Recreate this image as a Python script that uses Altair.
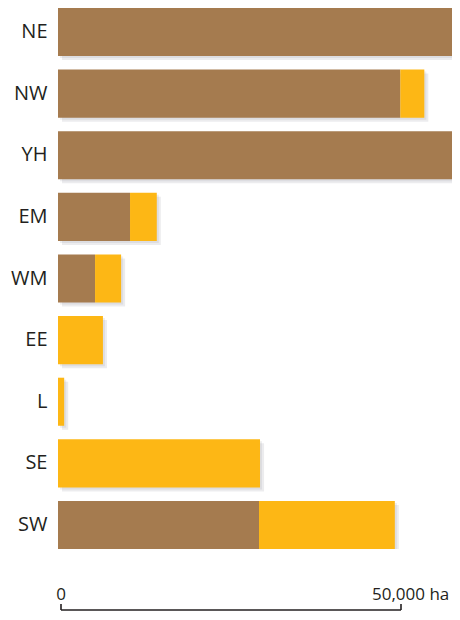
import altair as alt
import pandas as pd

regions = ["NE", "NW", "YH", "EM", "WM", "EE", "L", "SE", "SW"]
series_brown = [58000, 49900, 63000, 10500, 5400, 0, 0, 0, 29300]
series_yellow = [2000, 3500, 1000, 3900, 3800, 6550, 900, 29450, 19800]
series_names = ["Area A", "Area B"]
scale_ticks = [0, 50000]
scale_labels = ["0", "50,000 ha"]

BROWN = "#A57B4F"
YELLOW = "#FDB715"
INK = "#231F20"
FONT = "Open Sans"

rows = []
for r, a, b in zip(regions, series_brown, series_yellow):
    rows.append({"region": r, "series": series_names[0], "value": a, "order": 0})
    rows.append({"region": r, "series": series_names[1], "value": b, "order": 1})
df = pd.DataFrame(rows)
totals = pd.DataFrame({"region": regions,
                       "total": [a + b for a, b in zip(series_brown, series_yellow)]})
bar_df = pd.DataFrame({"start": [scale_ticks[0]], "end": [scale_ticks[1]]})
lab_df = pd.DataFrame({"v": scale_ticks, "label": scale_labels})

PLOT_W = 394
xscale = alt.Scale(domain=[0, 50000 * PLOT_W / 343], nice=False, zero=True)
yscale = alt.Scale(domain=regions, paddingInner=0.22, paddingOuter=0)
yaxis = alt.Axis(title=None, ticks=False, tickSize=0, domain=False, grid=False,
                 labelFont=FONT, labelFontSize=20, labelColor=INK, labelPadding=11)

shadow1 = alt.Chart(totals).mark_bar(clip=True, color="#8a8a96", opacity=0.16,
                                      xOffset=4, yOffset=4).encode(
    x=alt.X("total:Q", scale=xscale, axis=None),
    y=alt.Y("region:N", scale=yscale, axis=yaxis, sort=regions),
)
shadow2 = alt.Chart(totals).mark_bar(clip=True, color="#8a8a96", opacity=0.14,
                                      xOffset=2, yOffset=2).encode(
    x=alt.X("total:Q", scale=xscale, axis=None),
    y=alt.Y("region:N", scale=yscale, axis=yaxis, sort=regions),
)

bars = alt.Chart(df).mark_bar(clip=True).encode(
    x=alt.X("value:Q", stack="zero", scale=xscale, axis=None),
    y=alt.Y("region:N", scale=yscale, axis=yaxis, sort=regions),
    color=alt.Color("series:N", scale=alt.Scale(domain=series_names, range=[BROWN, YELLOW]),
                    legend=None),
    order=alt.Order("order:Q"),
)

AX_Y = 602
line = alt.Chart(bar_df).mark_rule(color=INK, strokeWidth=1.6, xOffset=3, x2Offset=0).encode(
    x=alt.X("start:Q", scale=xscale, axis=None),
    x2="end:Q",
    y=alt.value(AX_Y),
)
tick0 = alt.Chart(lab_df).transform_filter("datum.v == 0").mark_rule(
    color=INK, strokeWidth=1.6, xOffset=3).encode(
    x=alt.X("v:Q", scale=xscale, axis=None),
    y=alt.value(AX_Y - 6),
    y2=alt.value(AX_Y),
)
tick1 = alt.Chart(lab_df).transform_filter("datum.v > 0").mark_rule(
    color=INK, strokeWidth=1.6).encode(
    x=alt.X("v:Q", scale=xscale, axis=None),
    y=alt.value(AX_Y - 6),
    y2=alt.value(AX_Y),
)
label0 = alt.Chart(lab_df).transform_filter("datum.v == 0").mark_text(
    font=FONT, fontSize=17, color=INK, baseline="alphabetic", align="center", dx=3).encode(
    x=alt.X("v:Q", scale=xscale, axis=None),
    y=alt.value(AX_Y - 10),
    text="label:N",
)
label1 = alt.Chart(lab_df).transform_filter("datum.v > 0").mark_text(
    font=FONT, fontSize=17, color=INK, baseline="alphabetic", align="left", dx=-29).encode(
    x=alt.X("v:Q", scale=xscale, axis=None),
    y=alt.value(AX_Y - 10),
    text="label:N",
)

chart = alt.layer(shadow1, shadow2, bars, line, tick0, tick1, label0, label1).properties(
    width=PLOT_W, height=541,
    autosize=alt.AutoSizeParams(type="none"),
    padding={"left": 50, "top": 0, "right": 0, "bottom": 63},
    background="white",
).configure_view(stroke=None)

chart.save("out.html", embed_options={"renderer": "svg", "actions": False})
